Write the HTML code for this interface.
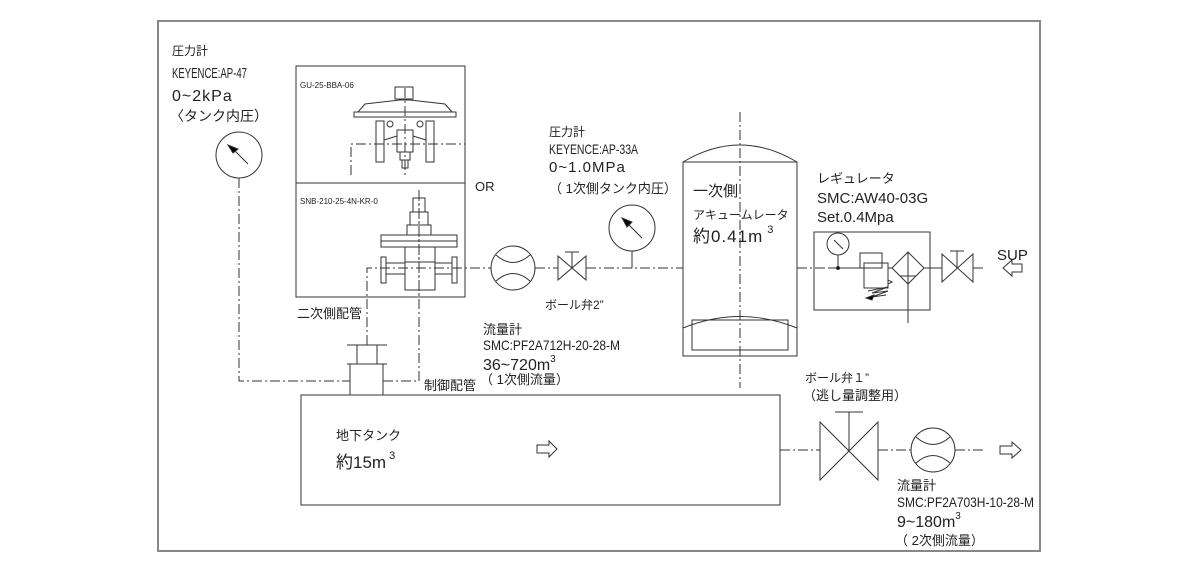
<!DOCTYPE html>
<html><head><meta charset="utf-8"><style>
html,body{margin:0;padding:0;background:#fff;}
svg{display:block;}
text{font-family:"Liberation Sans","Noto Sans CJK JP",sans-serif;fill:#222;}
</style></head><body>
<svg width="1200" height="573" viewBox="0 0 1200 573" xmlns="http://www.w3.org/2000/svg">
<rect x="158" y="21" width="882" height="530" fill="none" stroke="#888" stroke-width="2"/>
<g fill="none" stroke="#333" stroke-width="1">
<circle cx="239" cy="155" r="23"/>
<line x1="232" y1="148" x2="248" y2="164"/>
<polygon points="228,145 238,149 233,153" fill="#000"/>
<g stroke-dasharray="10,3,2,3">
<polyline points="239,178 239,381 350,381"/>
<polyline points="383,381 419,381 419,200"/>
<polyline points="367,345 367,268 491,268"/>
<line x1="535" y1="268" x2="558" y2="268"/>
<line x1="586" y1="268" x2="683" y2="268"/>
<line x1="797" y1="268" x2="830" y2="268"/>
<line x1="740" y1="112" x2="740" y2="388"/>
<polyline points="351,175 351,144 465,144"/>
<line x1="405" y1="88" x2="405" y2="175"/>
<line x1="419" y1="190" x2="419" y2="298"/>
<line x1="780" y1="450" x2="820" y2="450"/>
<line x1="878" y1="450" x2="911" y2="450"/>
<line x1="955" y1="450" x2="985" y2="450"/>
</g>
<rect x="296" y="66" width="169" height="231"/>
<line x1="296" y1="183" x2="465" y2="183"/>
<rect x="395" y="87" width="18" height="12"/>
<path d="M358,112 L365,104 L400,100 L410,100 L445,104 L452,112"/>
<rect x="354" y="112" width="102" height="5"/>
<rect x="376" y="121" width="8" height="41"/>
<rect x="426" y="121" width="8" height="41"/>
<rect x="397" y="130" width="16" height="22"/>
<rect x="400" y="152" width="10" height="8"/>
<rect x="402" y="160" width="6" height="8"/>
<line x1="384" y1="140" x2="397" y2="136"/><line x1="413" y1="136" x2="426" y2="140"/>
<circle cx="390" cy="124" r="3"/><circle cx="420" cy="124" r="3"/>
<rect x="413" y="198" width="12" height="14"/>
<rect x="410" y="212" width="18" height="13"/>
<rect x="407" y="225" width="24" height="10"/>
<rect x="381" y="235" width="76" height="12"/>
<line x1="381" y1="241" x2="457" y2="241"/>
<rect x="405" y="247" width="30" height="43"/>
<line x1="405" y1="262" x2="435" y2="262"/>
<rect x="381" y="257" width="5" height="26"/>
<rect x="452" y="257" width="5" height="26"/>
<line x1="386" y1="263" x2="405" y2="263"/><line x1="386" y1="274" x2="405" y2="274"/>
<line x1="435" y1="263" x2="452" y2="263"/><line x1="435" y1="274" x2="452" y2="274"/>
<line x1="347" y1="345" x2="387" y2="345"/>
<line x1="347" y1="364" x2="387" y2="364"/>
<line x1="357" y1="345" x2="357" y2="364"/><line x1="377" y1="345" x2="377" y2="364"/>
<line x1="350" y1="364" x2="350" y2="395"/><line x1="383" y1="364" x2="383" y2="395"/>
<rect x="301" y="395" width="479" height="110"/>
<path d="M537,445 h12 v-4 l8,8 l-8,8 v-4 h-12 z"/>
<circle cx="513" cy="268" r="22"/>
<path d="M496,255 Q513,270 530,255"/><path d="M496,281 Q513,266 530,281"/>
<path d="M558,256 L586,280 L586,256 L558,280 Z"/>
<line x1="572" y1="268" x2="572" y2="252"/><line x1="565" y1="252" x2="579" y2="252"/>
<circle cx="632" cy="228" r="23"/>
<line x1="632" y1="251" x2="632" y2="268"/>
<line x1="626" y1="222" x2="642" y2="238"/>
<polygon points="622,218 632,222 627,227" fill="#000"/>
<path d="M683,162 Q740,128 797,162"/>
<rect x="683" y="162" width="114" height="194"/>
<path d="M683,328 Q740,305 797,328"/>
<rect x="692" y="320" width="96" height="30"/>
<rect x="814" y="232" width="116" height="78"/>
<line x1="830" y1="268" x2="860" y2="268"/>
<circle cx="838" cy="244" r="11"/>
<line x1="838" y1="255" x2="838" y2="268"/>
<line x1="834" y1="240" x2="843" y2="249"/>
<circle cx="838" cy="268" r="1.5" fill="#000"/>
<rect x="860" y="253" width="22" height="15"/>
<rect x="864" y="263" width="24" height="25"/>
<line x1="860" y1="268" x2="864" y2="268"/>
<line x1="888" y1="268" x2="892" y2="268"/>
<path d="M888,284 l4,-2 l-4,-2"/>
<path d="M868,291 l20,-4 l-16,6 l16,-2 l-16,6 l14,-2"/>
<polygon points="866,298 874,295 872,300" fill="#000"/>
<path d="M892,268 L908,252 L924,268 L908,284 Z"/>
<line x1="908" y1="252" x2="908" y2="323"/>
<line x1="900" y1="276" x2="916" y2="276"/>
<line x1="924" y1="268" x2="942" y2="268"/>
<path d="M942,254 L973,282 L973,254 L942,282 Z"/>
<line x1="957" y1="268" x2="957" y2="251"/><line x1="950" y1="251" x2="964" y2="251"/>
<line x1="973" y1="268" x2="983" y2="268"/>
<path d="M1022,264 h-10 v-4 l-9,8 l9,8 v-4 h10 z"/>
<path d="M820,422 L878,480 L878,422 L820,480 Z"/>
<line x1="849" y1="451" x2="849" y2="412"/><line x1="835" y1="412" x2="863" y2="412"/>
<circle cx="933" cy="450" r="22"/>
<path d="M916,437 Q933,452 950,437"/><path d="M916,463 Q933,448 950,463"/>
<path d="M1000,446 h12 v-4 l9,8 l-9,8 v-4 h-12 z"/>
</g>
<text x="172" y="55" font-size="12">圧力計</text>
<text x="172" y="78" font-size="15" textLength="75" lengthAdjust="spacingAndGlyphs">KEYENCE:AP-47</text>
<text x="172" y="101" font-size="16" letter-spacing="1">0~2kPa</text>
<text x="170" y="121" font-size="14">〈タンク内圧）</text>
<text x="300" y="88" font-size="8">GU-25-BBA-06</text>
<text x="300" y="204" font-size="8">SNB-210-25-4N-KR-0</text>
<text x="475" y="191" font-size="13">OR</text>
<text x="297" y="318" font-size="13">二次側配管</text>
<text x="424" y="390" font-size="13">制御配管</text>
<text x="549" y="136" font-size="12">圧力計</text>
<text x="549" y="154" font-size="14" textLength="89" lengthAdjust="spacingAndGlyphs">KEYENCE:AP-33A</text>
<text x="549" y="172" font-size="15" letter-spacing="1">0~1.0MPa</text>
<text x="549" y="193" font-size="13">（ 1次側タンク内圧）</text>
<text x="693" y="196" font-size="15">一次側</text>
<text x="693" y="219" font-size="12">アキュームレータ</text>
<text x="693" y="242" font-size="17" letter-spacing="1">約0.41m<tspan dy="-9" font-size="11"> 3</tspan></text>
<text x="817" y="183" font-size="13">レギュレータ</text>
<text x="817" y="203" font-size="15">SMC:AW40-03G</text>
<text x="817" y="222" font-size="15">Set.0.4Mpa</text>
<text x="997" y="260" font-size="15">SUP</text>
<text x="545" y="309" font-size="12">ボール弁2”</text>
<text x="483" y="334" font-size="13">流量計</text>
<text x="483" y="350" font-size="14" textLength="137" lengthAdjust="spacingAndGlyphs">SMC:PF2A712H-20-28-M</text>
<text x="483" y="370" font-size="16">36~720m<tspan dy="-8" font-size="10">3</tspan></text>
<text x="480" y="384" font-size="13">（ 1次側流量）</text>
<text x="336" y="440" font-size="13">地下タンク</text>
<text x="336" y="468" font-size="17">約15m<tspan dy="-9" font-size="11"> 3</tspan></text>
<text x="805" y="382" font-size="12">ボール弁１”</text>
<text x="803" y="400" font-size="13">（逃し量調整用）</text>
<text x="897" y="490" font-size="13">流量計</text>
<text x="897" y="507" font-size="14" textLength="137" lengthAdjust="spacingAndGlyphs">SMC:PF2A703H-10-28-M</text>
<text x="897" y="527" font-size="16">9~180m<tspan dy="-8" font-size="10">3</tspan></text>
<text x="895" y="545" font-size="13">（ 2次側流量）</text>
</svg>
</body></html>
